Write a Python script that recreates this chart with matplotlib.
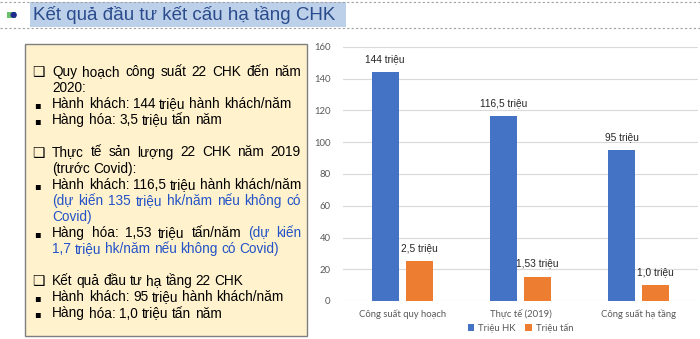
import matplotlib
matplotlib.use("Agg")
import matplotlib.pyplot as plt
import numpy as np
from matplotlib.patches import Rectangle

plt.rcParams['font.family'] = ['Liberation Sans', 'DejaVu Sans']

# chart data
categories = ['Công suất quy hoạch', 'Thực tế (2019)', 'Công suất hạ tầng']
hk = [144, 116.5, 95]
tan = [25, 15.3, 10]
hk_labels = ['144 triệu', '116,5 triệu', '95 triệu']
tan_labels = ['2,5 triệu', '1,53 triệu', '1,0 triệu']
series_names = ['Triệu HK', 'Triệu tấn']

title = 'Kết quả đầu tư kết cấu hạ tầng CHK'

# text box lines: (bullet, text, blue part, justify)
lines = [
    ('box', 'Quy hoạch công suất 22 CHK đến năm', '', True),
    ('', '2020:', '', False),
    ('sq', 'Hành khách: 144 triệu hành khách/năm', '', False),
    ('sq', 'Hàng hóa: 3,5 triệu tấn năm', '', False),
    (None, '', '', False),
    ('box', 'Thực tế sản lượng 22 CHK năm 2019', '', True),
    ('', '(trước Covid):', '', False),
    ('sq', 'Hành khách: 116,5 triệu hành khách/năm', '', False),
    ('', '', '(dự kiến 135 triệu hk/năm nếu không có', True),
    ('', '', 'Covid)', False),
    ('sq', 'Hàng hóa: 1,53 triệu tấn/năm', '(dự kiến', True),
    ('', '', '1,7 triệu hk/năm nếu không có Covid)', False),
    (None, '', '', False),
    ('box', 'Kết quả đầu tư hạ tầng 22 CHK', '', False),
    ('sq', ' Hành khách: 95 triệu hành khách/năm', '', False),
    ('sq', 'Hàng hóa: 1,0 triệu tấn năm', '', False),
]

W, H = 700, 339
fig = plt.figure(figsize=(7, 3.39), dpi=100)
fig.patch.set_facecolor('white')

def fx(px):
    return px / W

def fy(py):
    return 1 - py / H

# title area
for yy in (2, 28):
    fig.add_artist(plt.Line2D([fx(0), fx(700)], [fy(yy), fy(yy)], color='#A0A0A0',
                              lw=0.8, ls=(0, (2, 2))))
fig.add_artist(Rectangle((fx(30), fy(27)), fx(316), 25 / H, facecolor='#BDD0EA',
                         edgecolor='none'))
fig.add_artist(Rectangle((fx(7), fy(18)), fx(9), 6 / H, facecolor='#6CBF6C',
                         edgecolor='none'))
fig.text(fx(13), fy(15), '●', fontsize=6, color='#1F2A8F', ha='center', va='center',
         family='DejaVu Sans')
fig.text(fx(33), fy(20), title, fontsize=13.5, color='#2B4C8C', va='baseline')

# text box
fig.add_artist(Rectangle((fx(25), fy(336)), fx(282), 292 / H, facecolor='#FFF2CC',
                         edgecolor='#7F7F7F', lw=1))

fs = 9.8
blue = '#2352C8'
x0 = 52
x1 = 301
y0 = 76
step = 16.1
fig.canvas.draw()
r = fig.canvas.get_renderer()

def place_words(words, colors, y, justify):
    ts = []
    for w, c in zip(words, colors):
        t = fig.text(0, fy(y), w, fontsize=fs, color=c, va='baseline')
        ts.append(t)
    widths = [t.get_window_extent(r).width for t in ts]
    sp = fig.text(0, 0, 'a a', fontsize=fs)
    sp2 = fig.text(0, 0, 'aa', fontsize=fs)
    space = sp.get_window_extent(r).width - sp2.get_window_extent(r).width
    sp.remove()
    sp2.remove()
    if justify and len(ts) > 1:
        gap = (x1 - x0 - sum(widths)) / (len(ts) - 1)
    else:
        gap = space
    x = x0
    for t, w in zip(ts, widths):
        t.set_x(fx(x))
        x += w + gap

for i, (bul, txt, btxt, just) in enumerate(lines):
    y = y0 + i * step
    if bul is None:
        continue
    if bul == 'box':
        fig.text(fx(32), fy(y), '❑', fontsize=10, family='DejaVu Sans', va='baseline')
    elif bul == 'sq':
        fig.text(fx(34), fy(y), '▪', fontsize=7, family='DejaVu Sans', va='baseline')
    words = [w for w in txt.split(' ') if w]
    colors = ['black'] * len(words)
    if btxt:
        bw = btxt.split(' ')
        words += bw
        colors += [blue] * len(bw)
    place_words(words, colors, y, just)

# chart
ax = fig.add_axes([fx(343), fy(301), fx(355), 254 / H])
x = np.arange(len(categories))
bw = 0.228
off = 0.143
b1 = ax.bar(x - off, hk, bw, color='#4472C4', label=series_names[0], zorder=3)
b2 = ax.bar(x + off, tan, bw, color='#ED7D31', label=series_names[1], zorder=3)
for rect, lab in zip(list(b1) + list(b2), hk_labels + tan_labels):
    ax.annotate(lab, (rect.get_x() + rect.get_width() / 2, rect.get_height()),
                xytext=(0, 6), textcoords='offset points', ha='center', va='bottom',
                fontsize=7.3, color='#262626')

ax.set_xlim(-0.5, 2.5)
ax.set_ylim(0, 160)
ax.set_yticks(range(0, 161, 20))
ax.set_xticks(x)
ax.set_xticklabels(categories)
ax.grid(axis='y', color='#D9D9D9', lw=0.8, zorder=0)
for s in ax.spines.values():
    s.set_visible(False)
ax.tick_params(length=0, labelsize=6.8, labelcolor='#595959')
ax.tick_params(axis='y', pad=9)
ax.tick_params(axis='x', pad=6)
for t in ax.get_xticklabels() + ax.get_yticklabels():
    t.set_family(['Lato', 'DejaVu Sans'])
leg = ax.legend(loc='upper center', bbox_to_anchor=(0.5, -0.055), ncol=2, frameon=False,
                handlelength=0.7, handleheight=0.7, handletextpad=0.4,
                columnspacing=1.0, prop={'family': ['Lato', 'DejaVu Sans'], 'size': 6.8})
for t in leg.get_texts():
    t.set_color('#595959')

fig.savefig('out.png', dpi=100)
